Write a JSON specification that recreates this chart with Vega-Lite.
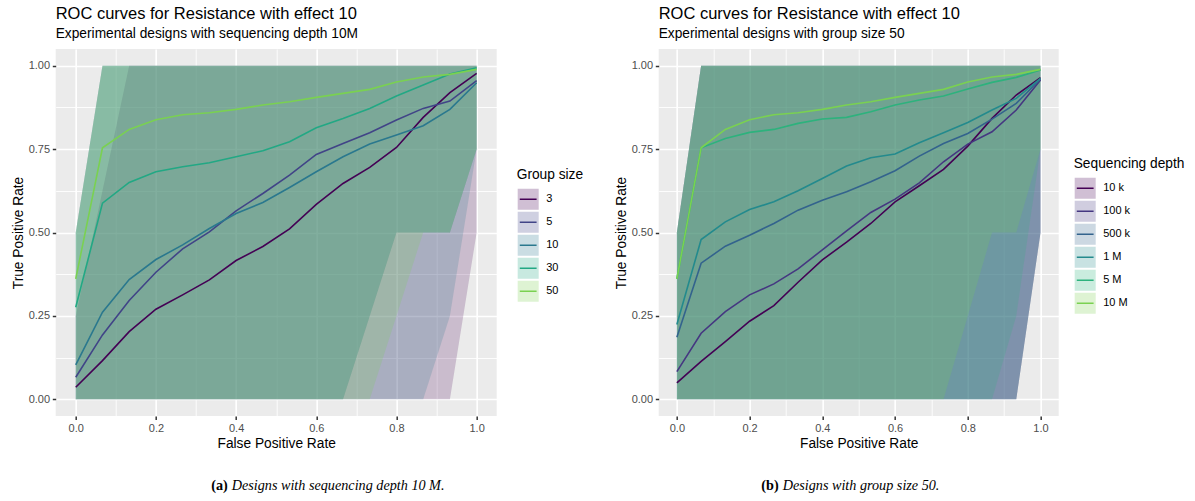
{
  "$schema": "https://vega.github.io/schema/vega-lite/v6.json",
  "background": "white",
  "padding": {"left": 10.7, "top": 6, "right": 0, "bottom": 0},
  "columns": 2,
  "bounds": "flush",
  "spacing": {"row": 60, "column": 162},
  "resolve": {
    "scale": {"fill": "independent", "stroke": "independent"},
    "legend": {"fill": "independent", "stroke": "independent"}
  },
  "datasets": {
    "byGroup": [
      {"g":3,"fpr":0,"tpr":0.036,"lo":0,"hi":0.25},
      {"g":3,"fpr":0.0667,"tpr":0.116,"lo":0,"hi":0.625},
      {"g":3,"fpr":0.1333,"tpr":0.203,"lo":0,"hi":1},
      {"g":3,"fpr":0.2,"tpr":0.27,"lo":0,"hi":1},
      {"g":3,"fpr":0.2667,"tpr":0.313,"lo":0,"hi":1},
      {"g":3,"fpr":0.3333,"tpr":0.358,"lo":0,"hi":1},
      {"g":3,"fpr":0.4,"tpr":0.416,"lo":0,"hi":1},
      {"g":3,"fpr":0.4667,"tpr":0.458,"lo":0,"hi":1},
      {"g":3,"fpr":0.5333,"tpr":0.511,"lo":0,"hi":1},
      {"g":3,"fpr":0.6,"tpr":0.584,"lo":0,"hi":1},
      {"g":3,"fpr":0.6667,"tpr":0.647,"lo":0,"hi":1},
      {"g":3,"fpr":0.7333,"tpr":0.695,"lo":0,"hi":1},
      {"g":3,"fpr":0.8,"tpr":0.755,"lo":0,"hi":1},
      {"g":3,"fpr":0.8667,"tpr":0.845,"lo":0,"hi":1},
      {"g":3,"fpr":0.9333,"tpr":0.919,"lo":0,"hi":1},
      {"g":3,"fpr":1,"tpr":0.977,"lo":0.5,"hi":1},
      {"g":5,"fpr":0,"tpr":0.066,"lo":0,"hi":0.5},
      {"g":5,"fpr":0.0667,"tpr":0.193,"lo":0,"hi":1},
      {"g":5,"fpr":0.1333,"tpr":0.296,"lo":0,"hi":1},
      {"g":5,"fpr":0.2,"tpr":0.381,"lo":0,"hi":1},
      {"g":5,"fpr":0.2667,"tpr":0.451,"lo":0,"hi":1},
      {"g":5,"fpr":0.3333,"tpr":0.502,"lo":0,"hi":1},
      {"g":5,"fpr":0.4,"tpr":0.565,"lo":0,"hi":1},
      {"g":5,"fpr":0.4667,"tpr":0.617,"lo":0,"hi":1},
      {"g":5,"fpr":0.5333,"tpr":0.672,"lo":0,"hi":1},
      {"g":5,"fpr":0.6,"tpr":0.734,"lo":0,"hi":1},
      {"g":5,"fpr":0.6667,"tpr":0.767,"lo":0,"hi":1},
      {"g":5,"fpr":0.7333,"tpr":0.799,"lo":0.25,"hi":1},
      {"g":5,"fpr":0.8,"tpr":0.837,"lo":0.5,"hi":1},
      {"g":5,"fpr":0.8667,"tpr":0.872,"lo":0.5,"hi":1},
      {"g":5,"fpr":0.9333,"tpr":0.894,"lo":0.5,"hi":1},
      {"g":5,"fpr":1,"tpr":0.955,"lo":0.75,"hi":1},
      {"g":10,"fpr":0,"tpr":0.103,"lo":0,"hi":0.5},
      {"g":10,"fpr":0.0667,"tpr":0.261,"lo":0,"hi":1},
      {"g":10,"fpr":0.1333,"tpr":0.359,"lo":0,"hi":1},
      {"g":10,"fpr":0.2,"tpr":0.419,"lo":0,"hi":1},
      {"g":10,"fpr":0.2667,"tpr":0.463,"lo":0,"hi":1},
      {"g":10,"fpr":0.3333,"tpr":0.512,"lo":0,"hi":1},
      {"g":10,"fpr":0.4,"tpr":0.557,"lo":0,"hi":1},
      {"g":10,"fpr":0.4667,"tpr":0.59,"lo":0,"hi":1},
      {"g":10,"fpr":0.5333,"tpr":0.635,"lo":0,"hi":1},
      {"g":10,"fpr":0.6,"tpr":0.682,"lo":0,"hi":1},
      {"g":10,"fpr":0.6667,"tpr":0.727,"lo":0,"hi":1},
      {"g":10,"fpr":0.7333,"tpr":0.765,"lo":0,"hi":1},
      {"g":10,"fpr":0.8,"tpr":0.792,"lo":0,"hi":1},
      {"g":10,"fpr":0.8667,"tpr":0.82,"lo":0,"hi":1},
      {"g":10,"fpr":0.9333,"tpr":0.869,"lo":0.25,"hi":1},
      {"g":10,"fpr":1,"tpr":0.949,"lo":0.75,"hi":1},
      {"g":30,"fpr":0,"tpr":0.276,"lo":0,"hi":0.5},
      {"g":30,"fpr":0.0667,"tpr":0.588,"lo":0,"hi":1},
      {"g":30,"fpr":0.1333,"tpr":0.65,"lo":0,"hi":1},
      {"g":30,"fpr":0.2,"tpr":0.682,"lo":0,"hi":1},
      {"g":30,"fpr":0.2667,"tpr":0.697,"lo":0,"hi":1},
      {"g":30,"fpr":0.3333,"tpr":0.709,"lo":0,"hi":1},
      {"g":30,"fpr":0.4,"tpr":0.727,"lo":0,"hi":1},
      {"g":30,"fpr":0.4667,"tpr":0.745,"lo":0,"hi":1},
      {"g":30,"fpr":0.5333,"tpr":0.772,"lo":0,"hi":1},
      {"g":30,"fpr":0.6,"tpr":0.814,"lo":0,"hi":1},
      {"g":30,"fpr":0.6667,"tpr":0.842,"lo":0,"hi":1},
      {"g":30,"fpr":0.7333,"tpr":0.872,"lo":0.25,"hi":1},
      {"g":30,"fpr":0.8,"tpr":0.909,"lo":0.5,"hi":1},
      {"g":30,"fpr":0.8667,"tpr":0.942,"lo":0.5,"hi":1},
      {"g":30,"fpr":0.9333,"tpr":0.975,"lo":0.5,"hi":1},
      {"g":30,"fpr":1,"tpr":0.994,"lo":0.75,"hi":1},
      {"g":50,"fpr":0,"tpr":0.361,"lo":0,"hi":0.5},
      {"g":50,"fpr":0.0667,"tpr":0.754,"lo":0,"hi":1},
      {"g":50,"fpr":0.1333,"tpr":0.809,"lo":0,"hi":1},
      {"g":50,"fpr":0.2,"tpr":0.838,"lo":0,"hi":1},
      {"g":50,"fpr":0.2667,"tpr":0.853,"lo":0,"hi":1},
      {"g":50,"fpr":0.3333,"tpr":0.859,"lo":0,"hi":1},
      {"g":50,"fpr":0.4,"tpr":0.869,"lo":0,"hi":1},
      {"g":50,"fpr":0.4667,"tpr":0.882,"lo":0,"hi":1},
      {"g":50,"fpr":0.5333,"tpr":0.892,"lo":0,"hi":1},
      {"g":50,"fpr":0.6,"tpr":0.905,"lo":0,"hi":1},
      {"g":50,"fpr":0.6667,"tpr":0.917,"lo":0,"hi":1},
      {"g":50,"fpr":0.7333,"tpr":0.929,"lo":0,"hi":1},
      {"g":50,"fpr":0.8,"tpr":0.951,"lo":0.25,"hi":1},
      {"g":50,"fpr":0.8667,"tpr":0.966,"lo":0.5,"hi":1},
      {"g":50,"fpr":0.9333,"tpr":0.974,"lo":0.5,"hi":1},
      {"g":50,"fpr":1,"tpr":0.989,"lo":0.75,"hi":1}
    ],
    "byDepth": [
      {"d":"10 k","fpr":0,"tpr":0.049,"lo":0,"hi":0.5},
      {"d":"10 k","fpr":0.0667,"tpr":0.114,"lo":0,"hi":1},
      {"d":"10 k","fpr":0.1333,"tpr":0.173,"lo":0,"hi":1},
      {"d":"10 k","fpr":0.2,"tpr":0.234,"lo":0,"hi":1},
      {"d":"10 k","fpr":0.2667,"tpr":0.281,"lo":0,"hi":1},
      {"d":"10 k","fpr":0.3333,"tpr":0.351,"lo":0,"hi":1},
      {"d":"10 k","fpr":0.4,"tpr":0.418,"lo":0,"hi":1},
      {"d":"10 k","fpr":0.4667,"tpr":0.471,"lo":0,"hi":1},
      {"d":"10 k","fpr":0.5333,"tpr":0.527,"lo":0,"hi":1},
      {"d":"10 k","fpr":0.6,"tpr":0.592,"lo":0,"hi":1},
      {"d":"10 k","fpr":0.6667,"tpr":0.64,"lo":0,"hi":1},
      {"d":"10 k","fpr":0.7333,"tpr":0.689,"lo":0,"hi":1},
      {"d":"10 k","fpr":0.8,"tpr":0.759,"lo":0,"hi":1},
      {"d":"10 k","fpr":0.8667,"tpr":0.842,"lo":0,"hi":1},
      {"d":"10 k","fpr":0.9333,"tpr":0.912,"lo":0,"hi":1},
      {"d":"10 k","fpr":1,"tpr":0.964,"lo":0.5,"hi":1},
      {"d":"100 k","fpr":0,"tpr":0.083,"lo":0,"hi":0.5},
      {"d":"100 k","fpr":0.0667,"tpr":0.198,"lo":0,"hi":1},
      {"d":"100 k","fpr":0.1333,"tpr":0.263,"lo":0,"hi":1},
      {"d":"100 k","fpr":0.2,"tpr":0.313,"lo":0,"hi":1},
      {"d":"100 k","fpr":0.2667,"tpr":0.346,"lo":0,"hi":1},
      {"d":"100 k","fpr":0.3333,"tpr":0.391,"lo":0,"hi":1},
      {"d":"100 k","fpr":0.4,"tpr":0.448,"lo":0,"hi":1},
      {"d":"100 k","fpr":0.4667,"tpr":0.505,"lo":0,"hi":1},
      {"d":"100 k","fpr":0.5333,"tpr":0.56,"lo":0,"hi":1},
      {"d":"100 k","fpr":0.6,"tpr":0.6,"lo":0,"hi":1},
      {"d":"100 k","fpr":0.6667,"tpr":0.649,"lo":0,"hi":1},
      {"d":"100 k","fpr":0.7333,"tpr":0.712,"lo":0,"hi":1},
      {"d":"100 k","fpr":0.8,"tpr":0.765,"lo":0,"hi":1},
      {"d":"100 k","fpr":0.8667,"tpr":0.802,"lo":0,"hi":1},
      {"d":"100 k","fpr":0.9333,"tpr":0.867,"lo":0,"hi":1},
      {"d":"100 k","fpr":1,"tpr":0.957,"lo":0.5,"hi":1},
      {"d":"500 k","fpr":0,"tpr":0.186,"lo":0,"hi":0.5},
      {"d":"500 k","fpr":0.0667,"tpr":0.408,"lo":0,"hi":1},
      {"d":"500 k","fpr":0.1333,"tpr":0.459,"lo":0,"hi":1},
      {"d":"500 k","fpr":0.2,"tpr":0.492,"lo":0,"hi":1},
      {"d":"500 k","fpr":0.2667,"tpr":0.527,"lo":0,"hi":1},
      {"d":"500 k","fpr":0.3333,"tpr":0.567,"lo":0,"hi":1},
      {"d":"500 k","fpr":0.4,"tpr":0.597,"lo":0,"hi":1},
      {"d":"500 k","fpr":0.4667,"tpr":0.622,"lo":0,"hi":1},
      {"d":"500 k","fpr":0.5333,"tpr":0.652,"lo":0,"hi":1},
      {"d":"500 k","fpr":0.6,"tpr":0.685,"lo":0,"hi":1},
      {"d":"500 k","fpr":0.6667,"tpr":0.729,"lo":0,"hi":1},
      {"d":"500 k","fpr":0.7333,"tpr":0.767,"lo":0,"hi":1},
      {"d":"500 k","fpr":0.8,"tpr":0.797,"lo":0,"hi":1},
      {"d":"500 k","fpr":0.8667,"tpr":0.84,"lo":0,"hi":1},
      {"d":"500 k","fpr":0.9333,"tpr":0.887,"lo":0,"hi":1},
      {"d":"500 k","fpr":1,"tpr":0.96,"lo":0.5,"hi":1},
      {"d":"1 M","fpr":0,"tpr":0.224,"lo":0,"hi":0.5},
      {"d":"1 M","fpr":0.0667,"tpr":0.479,"lo":0,"hi":1},
      {"d":"1 M","fpr":0.1333,"tpr":0.532,"lo":0,"hi":1},
      {"d":"1 M","fpr":0.2,"tpr":0.569,"lo":0,"hi":1},
      {"d":"1 M","fpr":0.2667,"tpr":0.592,"lo":0,"hi":1},
      {"d":"1 M","fpr":0.3333,"tpr":0.625,"lo":0,"hi":1},
      {"d":"1 M","fpr":0.4,"tpr":0.662,"lo":0,"hi":1},
      {"d":"1 M","fpr":0.4667,"tpr":0.699,"lo":0,"hi":1},
      {"d":"1 M","fpr":0.5333,"tpr":0.724,"lo":0,"hi":1},
      {"d":"1 M","fpr":0.6,"tpr":0.735,"lo":0,"hi":1},
      {"d":"1 M","fpr":0.6667,"tpr":0.769,"lo":0,"hi":1},
      {"d":"1 M","fpr":0.7333,"tpr":0.799,"lo":0,"hi":1},
      {"d":"1 M","fpr":0.8,"tpr":0.83,"lo":0,"hi":1},
      {"d":"1 M","fpr":0.8667,"tpr":0.867,"lo":0,"hi":1},
      {"d":"1 M","fpr":0.9333,"tpr":0.902,"lo":0,"hi":1},
      {"d":"1 M","fpr":1,"tpr":0.962,"lo":0.5,"hi":1},
      {"d":"5 M","fpr":0,"tpr":0.361,"lo":0,"hi":0.5},
      {"d":"5 M","fpr":0.0667,"tpr":0.754,"lo":0,"hi":1},
      {"d":"5 M","fpr":0.1333,"tpr":0.782,"lo":0,"hi":1},
      {"d":"5 M","fpr":0.2,"tpr":0.8,"lo":0,"hi":1},
      {"d":"5 M","fpr":0.2667,"tpr":0.809,"lo":0,"hi":1},
      {"d":"5 M","fpr":0.3333,"tpr":0.827,"lo":0,"hi":1},
      {"d":"5 M","fpr":0.4,"tpr":0.84,"lo":0,"hi":1},
      {"d":"5 M","fpr":0.4667,"tpr":0.845,"lo":0,"hi":1},
      {"d":"5 M","fpr":0.5333,"tpr":0.862,"lo":0,"hi":1},
      {"d":"5 M","fpr":0.6,"tpr":0.882,"lo":0,"hi":1},
      {"d":"5 M","fpr":0.6667,"tpr":0.897,"lo":0,"hi":1},
      {"d":"5 M","fpr":0.7333,"tpr":0.909,"lo":0,"hi":1},
      {"d":"5 M","fpr":0.8,"tpr":0.93,"lo":0,"hi":1},
      {"d":"5 M","fpr":0.8667,"tpr":0.95,"lo":0,"hi":1},
      {"d":"5 M","fpr":0.9333,"tpr":0.965,"lo":0.25,"hi":1},
      {"d":"5 M","fpr":1,"tpr":0.987,"lo":0.75,"hi":1},
      {"d":"10 M","fpr":0,"tpr":0.361,"lo":0,"hi":0.5},
      {"d":"10 M","fpr":0.0667,"tpr":0.754,"lo":0,"hi":1},
      {"d":"10 M","fpr":0.1333,"tpr":0.809,"lo":0,"hi":1},
      {"d":"10 M","fpr":0.2,"tpr":0.838,"lo":0,"hi":1},
      {"d":"10 M","fpr":0.2667,"tpr":0.853,"lo":0,"hi":1},
      {"d":"10 M","fpr":0.3333,"tpr":0.859,"lo":0,"hi":1},
      {"d":"10 M","fpr":0.4,"tpr":0.869,"lo":0,"hi":1},
      {"d":"10 M","fpr":0.4667,"tpr":0.882,"lo":0,"hi":1},
      {"d":"10 M","fpr":0.5333,"tpr":0.892,"lo":0,"hi":1},
      {"d":"10 M","fpr":0.6,"tpr":0.905,"lo":0,"hi":1},
      {"d":"10 M","fpr":0.6667,"tpr":0.917,"lo":0,"hi":1},
      {"d":"10 M","fpr":0.7333,"tpr":0.929,"lo":0,"hi":1},
      {"d":"10 M","fpr":0.8,"tpr":0.951,"lo":0.25,"hi":1},
      {"d":"10 M","fpr":0.8667,"tpr":0.966,"lo":0.5,"hi":1},
      {"d":"10 M","fpr":0.9333,"tpr":0.974,"lo":0.5,"hi":1},
      {"d":"10 M","fpr":1,"tpr":0.989,"lo":0.75,"hi":1}
    ],
    "captionA": [{"tag": "(a)", "caption": "Designs with sequencing depth 10 M."}],
    "captionB": [{"tag": "(b)", "caption": "Designs with group size 50."}]
  },
  "concat": [
    {
      "width": 441,
      "height": 367,
      "view": {"fill": "#EBEBEB", "stroke": null},
      "title": {"text": "ROC curves for Resistance with effect 10", "subtitle": "Experimental designs with sequencing depth 10M"},
      "data": {"name": "byGroup"},
      "layer": [
        {
          "mark": {"type": "area", "fillOpacity": 0.2},
          "encoding": {
            "x": {"field": "fpr", "type": "quantitative", "title": "False Positive Rate",
                  "scale": {"domain": [-0.05, 1.05], "nice": false, "zero": false},
                  "axis": {"values": [0, 0.2, 0.4, 0.6, 0.8, 1], "format": ".1f"}},
            "y": {"field": "lo", "type": "quantitative", "stack": null, "title": "True Positive Rate",
                  "scale": {"domain": [-0.05, 1.05], "nice": false, "zero": false},
                  "axis": {"values": [0, 0.25, 0.5, 0.75, 1], "format": ".2f"}},
            "y2": {"field": "hi"},
            "fill": {"field": "g", "type": "ordinal",
                     "scale": {"domain": [3, 5, 10, 30, 50], "range": ["#440154", "#414487", "#2A788E", "#22A884", "#7AD151"]},
                     "legend": {"title": "Group size", "orient": "none", "legendX": 461, "legendY": 119,
                                "symbolType": "M-0.8,0H1V-1H-1V1H1V0Z", "symbolSize": 441,
                                "symbolStrokeWidth": 1.5, "symbolDash": [16.8, 1000],
                                "encode": {"symbols": {"update": {"fillOpacity": {"value": 0.25}, "strokeOpacity": {"value": 1}, "strokeJoin": {"value": "bevel"}}}}}}
          }
        },
        {
          "mark": {"type": "line", "strokeWidth": 1.6},
          "encoding": {
            "x": {"field": "fpr", "type": "quantitative",
                  "axis": {"values": [0.1, 0.3, 0.5, 0.7, 0.9], "orient": "top", "grid": true, "gridWidth": 0.9,
                           "labels": false, "ticks": false, "domain": false, "title": null}},
            "y": {"field": "tpr", "type": "quantitative",
                  "axis": {"values": [0.125, 0.375, 0.625, 0.875], "orient": "right", "grid": true, "gridWidth": 0.9,
                           "labels": false, "ticks": false, "domain": false, "title": null}},
            "stroke": {"field": "g", "type": "ordinal",
                       "scale": {"domain": [3, 5, 10, 30, 50], "range": ["#440154", "#414487", "#2A788E", "#22A884", "#7AD151"]},
                       "legend": {"title": "Group size", "orient": "none", "legendX": 461, "legendY": 119,
                                  "symbolType": "M-0.8,0H1V-1H-1V1H1V0Z", "symbolSize": 441,
                                  "symbolStrokeWidth": 1.5, "symbolDash": [16.8, 1000],
                                  "encode": {"symbols": {"update": {"fillOpacity": {"value": 0.25}, "strokeOpacity": {"value": 1}, "strokeJoin": {"value": "bevel"}}}}}}
          }
        }
      ],
      "resolve": {"axis": {"x": "independent", "y": "independent"}}
    },
    {
      "width": 400,
      "height": 367,
      "view": {"fill": "#EBEBEB", "stroke": null},
      "title": {"text": "ROC curves for Resistance with effect 10", "subtitle": "Experimental designs with group size 50"},
      "data": {"name": "byDepth"},
      "layer": [
        {
          "mark": {"type": "area", "fillOpacity": 0.2},
          "encoding": {
            "x": {"field": "fpr", "type": "quantitative", "title": "False Positive Rate",
                  "scale": {"domain": [-0.05, 1.05], "nice": false, "zero": false},
                  "axis": {"values": [0, 0.2, 0.4, 0.6, 0.8, 1], "format": ".1f"}},
            "y": {"field": "lo", "type": "quantitative", "stack": null, "title": "True Positive Rate",
                  "scale": {"domain": [-0.05, 1.05], "nice": false, "zero": false},
                  "axis": {"values": [0, 0.25, 0.5, 0.75, 1], "format": ".2f"}},
            "y2": {"field": "hi"},
            "fill": {"field": "d", "type": "nominal",
                     "scale": {"domain": ["10 k", "100 k", "500 k", "1 M", "5 M", "10 M"],
                               "range": ["#440154", "#453781", "#33638D", "#238A8D", "#2DB27D", "#7AD151"]},
                     "legend": {"title": "Sequencing depth", "orient": "none", "legendX": 415, "legendY": 108,
                                "symbolType": "M-0.8,0H1V-1H-1V1H1V0Z", "symbolSize": 441,
                                "symbolStrokeWidth": 1.5, "symbolDash": [16.8, 1000],
                                "encode": {"symbols": {"update": {"fillOpacity": {"value": 0.25}, "strokeOpacity": {"value": 1}, "strokeJoin": {"value": "bevel"}}}}}}
          }
        },
        {
          "mark": {"type": "line", "strokeWidth": 1.6},
          "encoding": {
            "x": {"field": "fpr", "type": "quantitative",
                  "axis": {"values": [0.1, 0.3, 0.5, 0.7, 0.9], "orient": "top", "grid": true, "gridWidth": 0.9,
                           "labels": false, "ticks": false, "domain": false, "title": null}},
            "y": {"field": "tpr", "type": "quantitative",
                  "axis": {"values": [0.125, 0.375, 0.625, 0.875], "orient": "right", "grid": true, "gridWidth": 0.9,
                           "labels": false, "ticks": false, "domain": false, "title": null}},
            "stroke": {"field": "d", "type": "nominal",
                       "scale": {"domain": ["10 k", "100 k", "500 k", "1 M", "5 M", "10 M"],
                                 "range": ["#440154", "#453781", "#33638D", "#238A8D", "#2DB27D", "#7AD151"]},
                       "legend": {"title": "Sequencing depth", "orient": "none", "legendX": 415, "legendY": 108,
                                  "symbolType": "M-0.8,0H1V-1H-1V1H1V0Z", "symbolSize": 441,
                                  "symbolStrokeWidth": 1.5, "symbolDash": [16.8, 1000],
                                  "encode": {"symbols": {"update": {"fillOpacity": {"value": 0.25}, "strokeOpacity": {"value": 1}, "strokeJoin": {"value": "bevel"}}}}}}
          }
        }
      ],
      "resolve": {"axis": {"x": "independent", "y": "independent"}}
    },
    {
      "width": 344,
      "height": 20,
      "view": {"fill": null, "stroke": null},
      "data": {"name": "captionA"},
      "layer": [
        {"mark": {"type": "text", "align": "right", "font": "Liberation Serif", "fontSize": 14.2, "fontWeight": "bold", "color": "black"},
         "encoding": {"text": {"field": "tag"}}},
        {"mark": {"type": "text", "align": "left", "dx": 4, "font": "Liberation Serif", "fontSize": 14.2, "fontStyle": "italic", "color": "black"},
         "encoding": {"text": {"field": "caption"}}}
      ]
    },
    {
      "width": 240,
      "height": 20,
      "view": {"fill": null, "stroke": null},
      "data": {"name": "captionB"},
      "layer": [
        {"mark": {"type": "text", "align": "right", "font": "Liberation Serif", "fontSize": 14.2, "fontWeight": "bold", "color": "black"},
         "encoding": {"text": {"field": "tag"}}},
        {"mark": {"type": "text", "align": "left", "dx": 4, "font": "Liberation Serif", "fontSize": 14.2, "fontStyle": "italic", "color": "black"},
         "encoding": {"text": {"field": "caption"}}}
      ]
    }
  ],
  "config": {
    "font": "Liberation Sans",
    "view": {"stroke": null},
    "axis": {
      "domain": false,
      "tickColor": "#333333",
      "tickSize": 3.4,
      "tickWidth": 1.5,
      "labelColor": "#4D4D4D",
      "labelFontSize": 11,
      "labelPadding": 2.75,
      "titleColor": "black",
      "titleFontSize": 13.75,
      "titleFontWeight": "normal",
      "titlePadding": 3,
      "gridColor": "white",
      "gridWidth": 1.7,
      "gridOpacity": 1
    },
    "legend": {
      "labelFontSize": 11,
      "labelColor": "black",
      "labelOffset": 6.5,
      "titleFontSize": 13.75,
      "titleFontWeight": "normal",
      "titleColor": "black",
      "titlePadding": 6,
      "rowPadding": -0.7,
      "padding": 0
    },
    "title": {
      "anchor": "start",
      "frame": "group",
      "fontSize": 16.5,
      "fontWeight": "normal",
      "color": "black",
      "subtitleFontSize": 13.75,
      "subtitleColor": "black",
      "subtitlePadding": 4.5,
      "offset": 8
    }
  }
}
